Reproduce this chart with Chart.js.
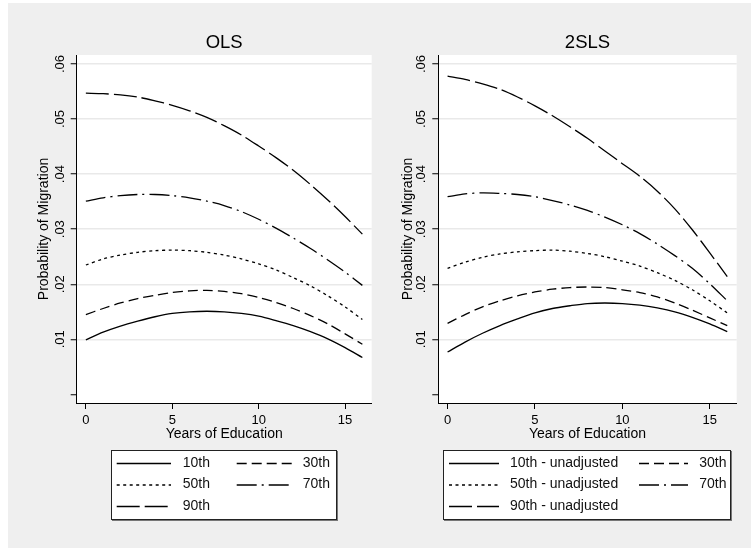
<!DOCTYPE html>
<html><head><meta charset="utf-8">
<script src="https://cdn.jsdelivr.net/npm/chart.js@4.4.1/dist/chart.umd.min.js"></script>
<style>
html,body{margin:0;padding:0;background:#fff;width:751px;height:548px;overflow:hidden;}
#bg{position:absolute;left:8px;top:3px;width:743px;height:545px;background:#efefef;}
#c1{position:absolute;left:8px;top:3px;}
#c2{position:absolute;left:380px;top:3px;}
</style></head><body>
<div id="bg"></div>
<canvas id="c1" width="372" height="545"></canvas>
<canvas id="c2" width="371" height="545"></canvas>
<script>
// ---- data ----
const years = [0,1,2,3,4,5,6,7,8,9,10,11,12,13,14,15,16];
const ols10 = [.0099,.0113,.0124,.0133,.0141,.0147,.0150,.0151,.0150,.0147,.0142,.0134,.0125,.0114,.0101,.0085,.0067];
const ols30 = [.0145,.0156,.0166,.0174,.0180,.0185,.0188,.0189,.0187,.0183,.0176,.0167,.0156,.0143,.0128,.0110,.0091];
const ols50 = [.0235,.0246,.0253,.0258,.0261,.0262,.0261,.0258,.0253,.0246,.0237,.0226,.0212,.0197,.0179,.0159,.0136];
const ols70 = [.0351,.0357,.0361,.0363,.0363,.0361,.0357,.0351,.0343,.0332,.0318,.0302,.0284,.0265,.0244,.0222,.0198];
const ols90 = [.0547,.0546,.0544,.0540,.0533,.0525,.0515,.0503,.0488,.0471,.0451,.0430,.0407,.0381,.0353,.0323,.0291];
const sls10 = [.0077,.0095,.0111,.0125,.0137,.0148,.0156,.0161,.0165,.0166,.0165,.0162,.0157,.0150,.0140,.0128,.0114];
const sls30 = [.0129,.0145,.0159,.0170,.0179,.0186,.0191,.0194,.0195,.0194,.0190,.0185,.0177,.0166,.0153,.0139,.0125];
const sls50 = [.0229,.0240,.0249,.0255,.0259,.0261,.0262,.0260,.0256,.0250,.0242,.0233,.0221,.0207,.0190,.0170,.0148];
const sls70 = [.0359,.0364,.0366,.0365,.0363,.0359,.0352,.0344,.0334,.0322,.0308,.0292,.0273,.0252,.0229,.0201,.0170];
const sls90 = [.0578,.0572,.0564,.0554,.0540,.0524,.0506,.0486,.0465,.0442,.0419,.0396,.0369,.0337,.0299,.0257,.0214];
const olsLabels = ['10th','30th','50th','70th','90th'];
const slsLabels = ['10th - unadjusted','30th','50th - unadjusted','70th','90th - unadjusted'];
const panelTitles = ['OLS','2SLS'];
const yTickValues = [0,0.01,0.02,0.03,0.04,0.05,0.06];
const yTickLabels = ['','.01','.02','.03','.04','.05','.06'];
const xTickValues = [0,5,10,15];
const xTitle = 'Years of Education';
const yTitle = 'Probability of Migration';

// ---- styles ----
const dashes = [[],[10,5],[3,3.5],[20,5,2,5],[23,5]];
const FONT = "'Liberation Sans', Arial, Helvetica, sans-serif";
Chart.defaults.font.family = FONT;
Chart.defaults.color = '#000';

const deco = {
  id:'deco',
  beforeDraw(chart){
    const a = chart.chartArea, ctx = chart.ctx;
    ctx.save(); ctx.fillStyle = '#fff';
    ctx.fillRect(a.left, a.top, a.right-a.left, a.bottom-a.top);
    ctx.restore();
  },
  afterDraw(chart, args, o){
    const a = chart.chartArea, ctx = chart.ctx;
    ctx.save();
    ctx.fillStyle = '#000';
    ctx.font = "18.5px " + FONT;
    ctx.textAlign = 'center'; ctx.textBaseline = 'alphabetic';
    ctx.fillText(o.title, (a.left+a.right)/2, o.titleY);
    const L = o.legend;
    ctx.fillStyle = '#fff';
    ctx.fillRect(L.x0, L.y0, L.x1-L.x0, L.y1-L.y0);
    ctx.strokeStyle = '#777'; ctx.lineWidth = 2;
    ctx.beginPath(); ctx.moveTo(L.x1, L.y0+1); ctx.lineTo(L.x1, L.y1); ctx.lineTo(L.x0+1, L.y1); ctx.stroke();
    ctx.strokeStyle = '#222'; ctx.lineWidth = 1;
    ctx.strokeRect(L.x0+0.5, L.y0+0.5, L.x1-L.x0-1, L.y1-L.y0-1);
    ctx.font = "14px " + FONT; ctx.textAlign = 'left'; ctx.textBaseline = 'middle';
    chart.data.datasets.forEach((ds,i)=>{
      const c = L.cols[i%2], y = L.rows[Math.floor(i/2)];
      ctx.strokeStyle = '#000'; ctx.lineWidth = ds.borderWidth;
      ctx.setLineDash(ds.borderDash);
      ctx.beginPath(); ctx.moveTo(c[0], y+0.5); ctx.lineTo(c[1], y+0.5); ctx.stroke();
      ctx.setLineDash([]);
      ctx.fillStyle = '#111';
      ctx.fillText(ds.label, c[2], y);
    });
    ctx.restore();
  }
};

function makeChart(id, series, labels, p){
  const datasets = series.map((s,i)=>({
    label: labels[i],
    data: years.map((x,j)=>({x:x, y:s[j]})),
    borderColor:'#000', borderWidth:1.3, borderDash:dashes[i],
    pointRadius:0, tension:0.3, fill:false
  }));
  return new Chart(document.getElementById(id), {
    type:'line',
    data:{datasets},
    plugins:[deco],
    options:{
      responsive:false, animation:false, devicePixelRatio:1,
      layout:{padding:{left:0, right:p.padRight, top:52, bottom:105}},
      plugins:{legend:{display:false}, tooltip:{enabled:false}, title:{display:false},
        deco:{title:p.title, titleY:45.3, legend:p.legend}},
      scales:{
        x:{type:'linear', min:-0.53, max:16.54,
          afterBuildTicks:s=>{s.ticks = xTickValues.map(v=>({value:v}));},
          afterFit:s=>{s.height = 40;},
          ticks:{font:{size:13}, padding:3.2, color:'#000', callback:v=>String(v), maxRotation:0, autoSkip:false},
          grid:{drawOnChartArea:false, tickLength:6, tickColor:'#000', tickWidth:1},
          border:{color:'#000', width:1},
          title:{display:true, text:xTitle, font:{size:14}, padding:{top:0,bottom:0.6}, color:'#000'}
        },
        y:{type:'linear', min:-0.00156, max:0.06163,
          afterBuildTicks:s=>{s.ticks = yTickValues.map(v=>({value:v}));},
          afterFit:s=>{s.width = p.yWidth;},
          ticks:{font:{size:13}, padding:1.7, color:'#000', minRotation:90, maxRotation:90, crossAlign:'center', autoSkip:false,
            callback:(v,i)=>yTickLabels[yTickValues.indexOf(v)]},
          grid:{drawOnChartArea:true, tickLength:6, tickColor:'#000', tickWidth:1, lineWidth:1.5,
            color:c=> (c.tick && c.tick.value===0) ? 'rgba(0,0,0,0)' : '#e9e9e9'},
          border:{color:'#000', width:1},
          title:{display:true, text:yTitle, font:{size:14}, padding:{top:p.yTitlePad,bottom:0}, color:'#000'}
        }
      }
    }
  });
}

makeChart('c1', [ols10,ols30,ols50,ols70,ols90], olsLabels, {
  title:panelTitles[0], padRight:8.3, yWidth:68.7, yTitlePad:27.6,
  legend:{x0:103, y0:447, x1:329, y1:517, rows:[460,481.5,503], cols:[[108.7,163,174.7],[228.7,283.7,294.7]]}
});
makeChart('c2', [sls10,sls30,sls50,sls70,sls90], slsLabels, {
  title:panelTitles[1], padRight:14.3, yWidth:58.3, yTitlePad:19.6,
  legend:{x0:63, y0:447, x1:351, y1:517, rows:[460,481.5,503], cols:[[69,119,130],[259,308,319.3]]}
});
</script>
</body></html>
